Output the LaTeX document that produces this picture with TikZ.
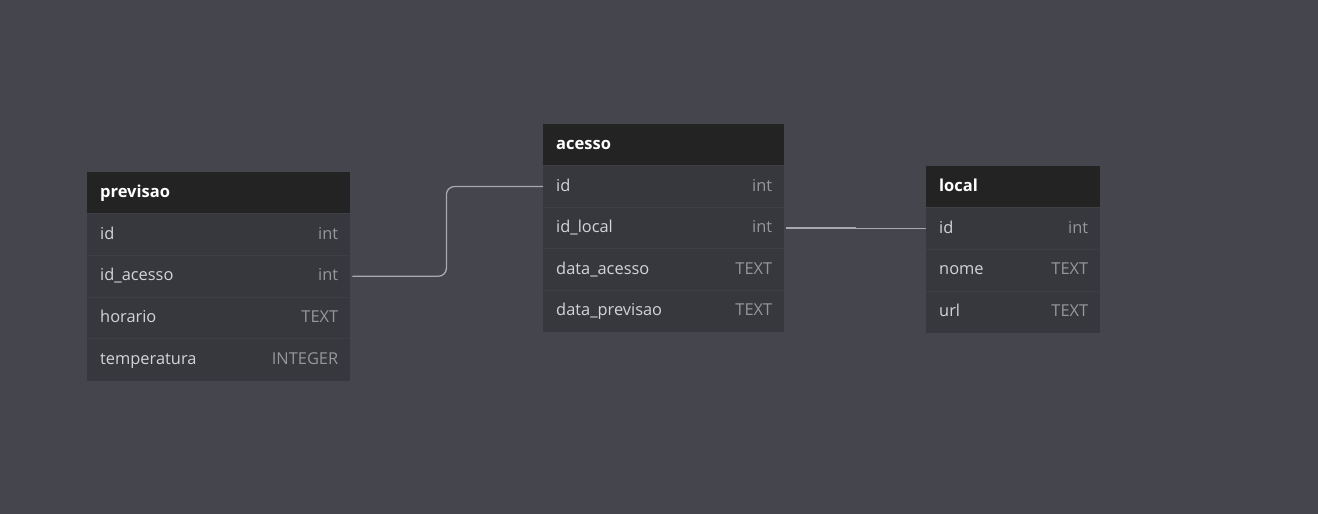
\documentclass[tikz,border=0pt]{standalone}
\usepackage{fontspec}
\setmainfont{Open Sans}

\definecolor{canvas}{RGB}{69,69,77}
\definecolor{headbg}{RGB}{35,35,35}
\definecolor{rowbg}{RGB}{55,55,62}
\definecolor{rowsep}{RGB}{62,62,69}
\definecolor{fieldtxt}{RGB}{212,212,216}
\definecolor{typetxt}{RGB}{150,150,156}
\definecolor{linkclr}{RGB}{168,168,176}

\tikzset{
  tblhead/.style={fill=headbg, anchor=north west, minimum height=41.5pt,
    inner sep=0pt},
  tblrow/.style={fill=rowbg, anchor=north west, minimum height=41.7pt,
    inner sep=0pt},
  titletxt/.style={anchor=west, text=white, inner xsep=13pt,
    font=\fontsize{16.5}{19}\selectfont\bfseries, text height=12pt, text depth=3pt},
  fieldlbl/.style={anchor=west, text=fieldtxt, inner xsep=13pt,
    font=\fontsize{16.4}{19}\selectfont, text height=12pt, text depth=3pt},
  typelbl/.style={anchor=east, text=typetxt, inner xsep=12pt,
    font=\fontsize{16.4}{19}\selectfont, text height=12pt, text depth=3pt},
  link/.style={draw=linkclr, line width=1.3pt}
}

\begin{document}
\begin{tikzpicture}[x=1pt,y=-1pt]
  % Canvas
  \useasboundingbox[fill=canvas] (0,0) rectangle (1318,514);

  % Table previsao
  \node[tblhead, minimum width=263pt] (prev-h) at (87,172) {};
  \node[titletxt] at (prev-h.west) {previsao};
  \foreach \fld/\typ [count=\i] in {id/int, id\_acesso/int, horario/TEXT, temperatura/INTEGER} {
    \node[tblrow, minimum width=263pt] (prev-\i) at (87,{213.5+41.7*(\i-1)}) {};
    \draw[rowsep] (prev-\i.north west) -- (prev-\i.north east);
    \node[fieldlbl] at (prev-\i.west) {\fld};
    \node[typelbl] at (prev-\i.east) {\typ};
  }

  % Table acesso
  \node[tblhead, minimum width=241pt] (acc-h) at (543,124) {};
  \node[titletxt] at (acc-h.west) {acesso};
  \foreach \fld/\typ [count=\i] in {id/int, id\_local/int, data\_acesso/TEXT, data\_previsao/TEXT} {
    \node[tblrow, minimum width=241pt] (acc-\i) at (543,{165.5+41.5*(\i-1)}) {};
    \draw[rowsep] (acc-\i.north west) -- (acc-\i.north east);
    \node[fieldlbl] at (acc-\i.west) {\fld};
    \node[typelbl] at (acc-\i.east) {\typ};
  }

  % Table local
  \node[tblhead, minimum width=174pt] (loc-h) at (926,166) {};
  \node[titletxt] at (loc-h.west) {local};
  \foreach \fld/\typ [count=\i] in {id/int, nome/TEXT, url/TEXT} {
    \node[tblrow, minimum width=174pt] (loc-\i) at (926,{207.5+41.7*(\i-1)}) {};
    \draw[rowsep] (loc-\i.north west) -- (loc-\i.north east);
    \node[fieldlbl] at (loc-\i.west) {\fld};
    \node[typelbl] at (loc-\i.east) {\typ};
  }

  % References
  \draw[link, rounded corners=8pt] (prev-2.east) ++(2,0) -- ++(94,0) |- (acc-1.west);
  \draw[link] (acc-2.east) ++(2,0) -- ++(69,0) |- (loc-1.west);
\end{tikzpicture}
\end{document}
